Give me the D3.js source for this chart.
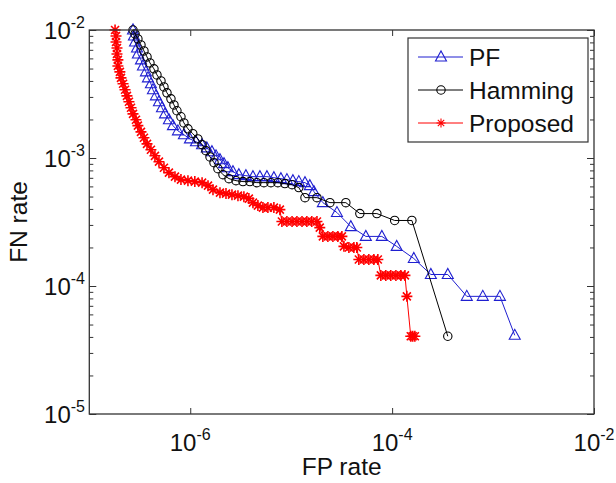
<!DOCTYPE html>
<html><head><meta charset="utf-8">
<script src="https://cdn.jsdelivr.net/npm/d3@7"></script>
<style>body{margin:0;background:#fff}</style>
</head><body>
<svg id="chart" width="616" height="483"></svg>
<script>
// ---- data ----
const seriesNames = ["PF", "Hamming", "Proposed"];

const pfFP = [2.71e-7,2.77e-7,2.84e-7,2.97e-7,3.03e-7,3.25e-7,3.40e-7,3.64e-7,3.81e-7,4.08e-7,
  4.27e-7,4.57e-7,4.90e-7,5.25e-7,5.62e-7,6.15e-7,6.74e-7,7.55e-7,8.66e-7,9.93e-7,
  1.14e-6,1.31e-6,1.46e-6,1.64e-6,1.80e-6,1.97e-6,2.16e-6,2.36e-6,2.65e-6,3.03e-6,
  3.56e-6,4.18e-6,4.90e-6,5.75e-6,6.74e-6,7.91e-6,9.07e-6,1.04e-5,1.19e-5,1.37e-5,
  1.53e-5,1.68e-5,2.06e-5,2.84e-5,3.90e-5,5.49e-5,7.91e-5,1.11e-4,1.64e-4,2.42e-4,
  3.56e-4,5.49e-4,7.91e-4,1.17e-3,1.64e-3];
const pfFN = [1.00e-2,8.98e-3,8.06e-3,7.24e-3,6.50e-3,5.84e-3,5.24e-3,4.71e-3,4.23e-3,3.80e-3,
  3.41e-3,3.06e-3,2.75e-3,2.47e-3,2.21e-3,1.99e-3,1.79e-3,1.63e-3,1.52e-3,1.41e-3,
  1.34e-3,1.27e-3,1.20e-3,1.12e-3,1.04e-3,9.70e-4,9.03e-4,8.40e-4,7.82e-4,7.41e-4,
  7.28e-4,7.15e-4,7.15e-4,7.15e-4,7.02e-4,6.90e-4,6.78e-4,6.65e-4,6.54e-4,6.42e-4,
  6.08e-4,5.46e-4,4.48e-4,3.75e-4,2.91e-4,2.44e-4,2.44e-4,2.04e-4,1.64e-4,1.23e-4,
  1.23e-4,8.30e-5,8.30e-5,8.30e-5,4.12e-5];

const hamFP = [2.71e-7,2.84e-7,3.03e-7,3.25e-7,3.48e-7,3.73e-7,3.99e-7,4.37e-7,4.68e-7,5.13e-7,
  5.49e-7,5.88e-7,6.44e-7,6.90e-7,7.38e-7,8.09e-7,8.66e-7,9.49e-7,1.06e-6,1.19e-6,
  1.31e-6,1.43e-6,1.57e-6,1.72e-6,1.88e-6,2.11e-6,2.42e-6,2.84e-6,3.33e-6,3.90e-6,
  4.57e-6,5.37e-6,6.30e-6,7.38e-6,8.66e-6,1.02e-5,1.19e-5,1.37e-5,1.80e-5,2.42e-5,
  3.48e-5,4.79e-5,7.06e-5,1.06e-4,1.57e-4,3.56e-4];
const hamFN = [1.00e-2,9.31e-3,8.51e-3,7.64e-3,6.86e-3,6.16e-3,5.53e-3,4.97e-3,4.46e-3,4.00e-3,
  3.59e-3,3.23e-3,2.90e-3,2.60e-3,2.34e-3,2.10e-3,1.88e-3,1.69e-3,1.55e-3,1.41e-3,
  1.27e-3,1.14e-3,1.02e-3,9.19e-4,8.25e-4,7.41e-4,6.90e-4,6.65e-4,6.54e-4,6.54e-4,
  6.42e-4,6.42e-4,6.42e-4,6.42e-4,6.31e-4,6.19e-4,5.87e-4,4.90e-4,4.90e-4,4.48e-4,
  4.48e-4,3.68e-4,3.68e-4,3.25e-4,3.25e-4,4.05e-5];

const propFP = [1.80e-7,1.84e-7,1.84e-7,1.88e-7,1.88e-7,1.92e-7,1.92e-7,2.01e-7,2.06e-7,2.16e-7,
  2.26e-7,2.36e-7,2.47e-7,2.59e-7,2.71e-7,2.90e-7,3.03e-7,3.25e-7,3.48e-7,3.73e-7,
  4.08e-7,4.47e-7,4.90e-7,5.49e-7,6.15e-7,7.06e-7,8.09e-7,9.49e-7,1.11e-6,1.31e-6,
  1.50e-6,1.68e-6,1.97e-6,2.26e-6,2.59e-6,2.97e-6,3.40e-6,3.81e-6,4.18e-6,4.68e-6,
  5.25e-6,5.88e-6,6.74e-6,7.73e-6,8.09e-6,9.07e-6,1.02e-5,1.14e-5,1.28e-5,1.43e-5,
  1.60e-5,1.80e-5,1.92e-5,2.06e-5,2.31e-5,2.59e-5,2.90e-5,3.18e-5,3.33e-5,3.73e-5,
  4.18e-5,4.47e-5,4.68e-5,5.25e-5,5.88e-5,6.59e-5,7.22e-5,7.73e-5,8.66e-5,9.70e-5,
  1.09e-4,1.22e-4,1.34e-4,1.40e-4,1.53e-4,1.60e-4,1.68e-4];
const propFN = [1.00e-2,8.98e-3,8.06e-3,7.24e-3,6.50e-3,5.84e-3,5.24e-3,4.71e-3,4.23e-3,3.80e-3,
  3.41e-3,3.06e-3,2.75e-3,2.47e-3,2.21e-3,1.99e-3,1.79e-3,1.60e-3,1.44e-3,1.29e-3,
  1.16e-3,1.04e-3,9.36e-4,8.40e-4,7.68e-4,7.15e-4,6.78e-4,6.65e-4,6.54e-4,6.42e-4,
  6.08e-4,5.66e-4,5.36e-4,5.27e-4,5.17e-4,5.08e-4,4.99e-4,4.82e-4,4.48e-4,4.25e-4,
  4.10e-4,4.10e-4,4.10e-4,3.95e-4,3.19e-4,3.19e-4,3.19e-4,3.19e-4,3.19e-4,3.19e-4,
  3.19e-4,3.19e-4,2.86e-4,2.44e-4,2.44e-4,2.44e-4,2.44e-4,2.44e-4,2.04e-4,2.00e-4,
  2.00e-4,2.00e-4,1.61e-4,1.61e-4,1.61e-4,1.61e-4,1.61e-4,1.21e-4,1.21e-4,1.21e-4,
  1.21e-4,1.21e-4,1.21e-4,8.30e-5,4.05e-5,4.05e-5,4.05e-5];

const xDomain = [1e-7, 1e-2];
const yDomain = [1e-5, 1e-2];
const xTickValues = [1e-6, 1e-4, 1e-2];
const yTickValues = [1e-5, 1e-4, 1e-3, 1e-2];
const xLabel = "FP rate";
const yLabel = "FN rate";

// ---- layout ----
const L = 89.3, R = 594, T = 30, B = 414;
const svg = d3.select("#chart");
const font = "Liberation Sans, Arial, sans-serif";
const x = d3.scaleLog().domain(xDomain).range([L, R]);
const y = d3.scaleLog().domain(yDomain).range([B, T]);

const series = [
  {name: seriesNames[0], fp: pfFP, fn: pfFN, color: "#1f1fd0", marker: "tri"},
  {name: seriesNames[1], fp: hamFP, fn: hamFN, color: "#000000", marker: "circ"},
  {name: seriesNames[2], fp: propFP, fn: propFN, color: "#ff0000", marker: "star"}
];

function drawMarker(g, type, color, legend) {
  if (type === "tri") {
    g.append("path").attr("d", "M-5.5,4 L5.5,4 L0,-6 Z")
      .attr("fill", "none").attr("stroke", color).attr("stroke-width", 1.1);
  } else if (type === "circ") {
    g.append("circle").attr("r", 4.2).attr("fill", "none")
      .attr("stroke", color).attr("stroke-width", 1.1);
  } else {
    const a = legend ? 4.5 : 5.5, b = legend ? 3.2 : 4;
    g.append("path").attr("d", `M${-a},0 L${a},0 M0,${-a} L0,${a} M${-b},${-b} L${b},${b} M${-b},${b} L${b},${-b}`)
      .attr("fill", "none").attr("stroke", color).attr("stroke-width", legend ? 1.1 : 1.6);
  }
}

const plot = svg.append("g");
series.forEach(s => {
  const pts = s.fp.map((v, i) => [v, s.fn[i]]);
  plot.append("path").datum(pts)
    .attr("d", d3.line().x(d => x(d[0])).y(d => y(d[1])))
    .attr("fill", "none").attr("stroke", s.color).attr("stroke-width", 1);
  pts.forEach(d => {
    const g = plot.append("g").attr("transform", `translate(${x(d[0])},${y(d[1])})`);
    drawMarker(g, s.marker, s.color, false);
  });
});

// ---- axes ----
const axisColor = "#333";
const ax = svg.append("g");
function styleAxis(g) {
  g.select(".domain").remove();
  g.selectAll("line").attr("stroke", axisColor).attr("stroke-width", 1);
  g.selectAll("text").remove();
}
ax.append("g").attr("transform", `translate(0,${B})`)
  .call(d3.axisBottom(x).tickValues(xTickValues).tickSize(-6).tickFormat("")).call(styleAxis);
ax.append("g").attr("transform", `translate(0,${T})`)
  .call(d3.axisTop(x).tickValues(xTickValues).tickSize(-6).tickFormat("")).call(styleAxis);
const yMinor = y.ticks().filter(v => !yTickValues.some(t => Math.abs(t - v) / t < 1e-6));
ax.append("g").attr("transform", `translate(${L},0)`)
  .call(d3.axisLeft(y).tickValues(yTickValues).tickSize(-7).tickFormat("")).call(styleAxis);
ax.append("g").attr("transform", `translate(${L},0)`)
  .call(d3.axisLeft(y).tickValues(yMinor).tickSize(-4).tickFormat("")).call(styleAxis);
ax.append("g").attr("transform", `translate(${R},0)`)
  .call(d3.axisRight(y).tickValues(yTickValues).tickSize(-7).tickFormat("")).call(styleAxis);
ax.append("g").attr("transform", `translate(${R},0)`)
  .call(d3.axisRight(y).tickValues(yMinor).tickSize(-4).tickFormat("")).call(styleAxis);

ax.append("rect").attr("x", L).attr("y", T).attr("width", R - L).attr("height", B - T)
  .attr("fill", "none").attr("stroke", axisColor).attr("stroke-width", 1.3);

function powLabel(sel, v) {
  const e = Math.round(Math.log10(v));
  sel.append("tspan").attr("font-size", 24).text("10");
  sel.append("tspan").attr("font-size", 16).attr("dy", -11).text(String(e));
}
xTickValues.forEach(v => {
  const t = svg.append("text").attr("x", x(v)).attr("y", 451).attr("text-anchor", "middle")
    .attr("font-family", font).attr("fill", "#111");
  powLabel(t, v);
});
yTickValues.forEach(v => {
  const t = svg.append("text").attr("x", 85).attr("y", y(v) + 9).attr("text-anchor", "end")
    .attr("font-family", font).attr("fill", "#111");
  powLabel(t, v);
});

svg.append("text").attr("x", (L + R) / 2).attr("y", 475).attr("text-anchor", "middle")
  .attr("font-family", font).attr("font-size", 24.5).attr("fill", "#111").text(xLabel);
svg.append("text").attr("transform", `translate(27,${(T + B) / 2}) rotate(-90)`)
  .attr("text-anchor", "middle").attr("font-family", font).attr("font-size", 24.5)
  .attr("fill", "#111").text(yLabel);

// ---- legend ----
const lg = svg.append("g");
lg.append("rect").attr("x", 408).attr("y", 38).attr("width", 180).attr("height", 104)
  .attr("fill", "#fff").attr("stroke", axisColor).attr("stroke-width", 1.2);
series.forEach((s, i) => {
  const yy = 57 + i * 33;
  lg.append("line").attr("x1", 418).attr("x2", 463).attr("y1", yy).attr("y2", yy)
    .attr("stroke", s.color).attr("stroke-width", 1);
  drawMarker(lg.append("g").attr("transform", `translate(441,${yy})`), s.marker, s.color, true);
  lg.append("text").attr("x", 469).attr("y", yy + 8.5).attr("font-family", font)
    .attr("font-size", 24.5).attr("fill", "#111").text(s.name);
});
</script>
</body></html>
